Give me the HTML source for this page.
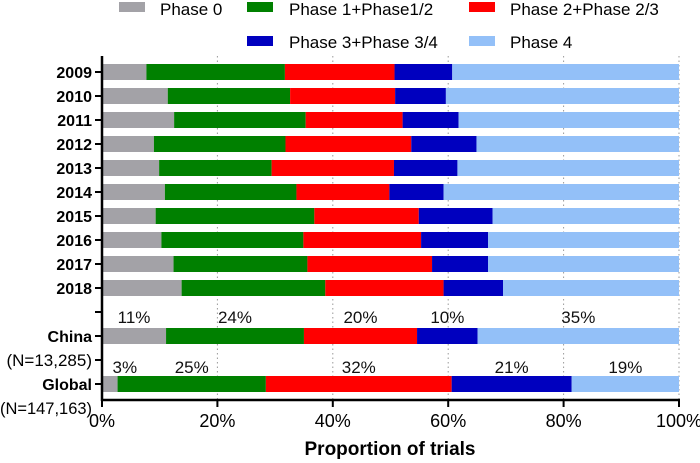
<!DOCTYPE html>
<html><head><meta charset="utf-8"><style>
html,body{margin:0;padding:0;background:#fff;}
svg{display:block;font-family:"Liberation Sans",Arial,sans-serif;}
</style></head><body>
<svg id="chart" width="700" height="463" viewBox="0 0 700 463" xmlns="http://www.w3.org/2000/svg">
  <g id="legend"></g>
  <g id="grid"></g>
  <g id="bars"></g>
  <g id="annot"></g>
  <g id="axes"></g>
  <text x="390" y="455" text-anchor="middle" font-size="19" font-weight="bold" fill="#000">Proportion of trials</text>
</svg>
<script>
const categories = ["2009","2010","2011","2012","2013","2014","2015","2016","2017","2018","China","Global"];
const phase0  = [7.7,11.4,12.5,9.0,9.9,10.9,9.3,10.3,12.4,13.8,11.1,2.7];
const phase1  = [24.0,21.2,22.8,22.8,19.5,22.8,27.5,24.6,23.2,24.9,23.9,25.7];
const phase2  = [19.0,18.2,16.8,21.8,21.2,16.1,18.1,20.4,21.6,20.5,19.6,32.2];
const phase3  = [10.0,8.8,9.7,11.3,11.0,9.4,12.8,11.6,9.7,10.3,10.5,20.8];
const phase4  = [39.3,40.4,38.2,35.1,38.4,40.8,32.3,33.1,33.1,30.5,34.9,18.6];
const seriesNames = ["Phase 0","Phase 1+Phase1/2","Phase 2+Phase 2/3","Phase 3+Phase 3/4","Phase 4"];
const xTicks = [0,20,40,60,80,100];
const chinaLabels = ["11%","24%","20%","10%","35%"];
const globalLabels = ["3%","25%","32%","21%","19%"];

const NS="http://www.w3.org/2000/svg";
const colors=["#a3a2a7","#008000","#ff0000","#0000bf","#93c0f8"];
const X0=102,X1=679;
const xs=v=>X0+(X1-X0)*v/100;
const rowY=i=>i<10?72+24*i:(i===10?336:384);
function mk(tag,attrs,parent){const e=document.createElementNS(NS,tag);for(const k in attrs)e.setAttribute(k,attrs[k]);parent.appendChild(e);return e;}
const series=[phase0,phase1,phase2,phase3,phase4];

// legend
const lg=document.getElementById('legend');
const legPos=[[119,2,160,9],[247,2,289,9],[469,2,510,9],[247,36,289,42],[469,36,510,42]];
seriesNames.forEach((n,i)=>{
  const [sx,sy,tx,ty]=legPos[i];
  const r=mk('rect',{x:sx,y:sy,width:26,height:10,fill:colors[i]},lg);
  
  
  const t=mk('text',{x:tx,y:ty+6,'font-size':17,fill:'#000'},lg);
  t.textContent=n;
  
  
});

// grid
const gg=document.getElementById('grid');
xTicks.slice(1).forEach(v=>{
  const l=mk('line',{x1:xs(v),x2:xs(v),y1:56,y2:400,stroke:'#999','stroke-width':1,'stroke-dasharray':'1.5,3'},gg);
  
  
});

// bars
const bg=document.getElementById('bars');
categories.forEach((c,i)=>{
  let cum=0;
  series.forEach((s,j)=>{
    const a=cum,b=(j===4)?100:cum+s[i];cum+=s[i];
    const r=mk('rect',{x:xs(a),y:rowY(i)-8,width:Math.max(0,xs(b)-xs(a)),height:16,fill:colors[j]},bg);
    
    
  });
});

// annotations
const ag=document.getElementById('annot');
function addLabels(labels,seg,rowIdx,y,offs){
  let cum=0;
  labels.forEach((t,j)=>{
    const v=series[j][rowIdx];
    const cx=xs(cum+v/2)+offs[j];cum+=v;
    const e=mk('text',{x:cx,y:y,'text-anchor':'middle','font-size':17,fill:'#111'},ag);
    e.textContent=t;
    
    
  });
}
addLabels(chinaLabels,'china',10,323,[0,0,0,0,0]);
addLabels(globalLabels,'global',11,373,[15,0,0,0,0]);

// axes
const ax=document.getElementById('axes');
let e=mk('line',{x1:X0,x2:X0,y1:56,y2:401,stroke:'#000','stroke-width':2.5},ax);


e=mk('line',{x1:X0-1,x2:X1+1,y1:400,y2:400,stroke:'#000','stroke-width':2.5},ax);


xTicks.forEach(v=>{
  const t=mk('line',{x1:xs(v),x2:xs(v),y1:400,y2:407,stroke:'#000','stroke-width':2},ax);
  
  
  const l=mk('text',{x:xs(v),y:427,'text-anchor':'middle','font-size':18,fill:'#000'},ax);
  l.textContent=v+'%';
  
  
});
const yLabels=categories.map((c,i)=>({y:rowY(i),t:c,b:true,tick:true}));
yLabels.push({y:312,t:'',b:false,tick:true});
yLabels.push({y:360,t:'(N=13,285)',b:false,tick:true});
yLabels.push({y:408,t:'(N=147,163)',b:false,tick:false});
yLabels.forEach((o,k)=>{
  if(o.tick){
    const t=mk('line',{x1:95,x2:X0,y1:o.y,y2:o.y,stroke:'#000','stroke-width':2},ax);
    
    
  }
  if(o.t){
    const attrs={x:92,y:o.y+6,'text-anchor':'end','font-size':o.b?16:17,'font-weight':o.b?'bold':'normal',fill:'#000'};
    if(o.t==='(N=147,163)'){attrs.textLength=92;attrs.lengthAdjust='spacingAndGlyphs';}
    const l=mk('text',attrs,ax);
    l.textContent=o.t;
    
    
  }
});
</script>
</body></html>
